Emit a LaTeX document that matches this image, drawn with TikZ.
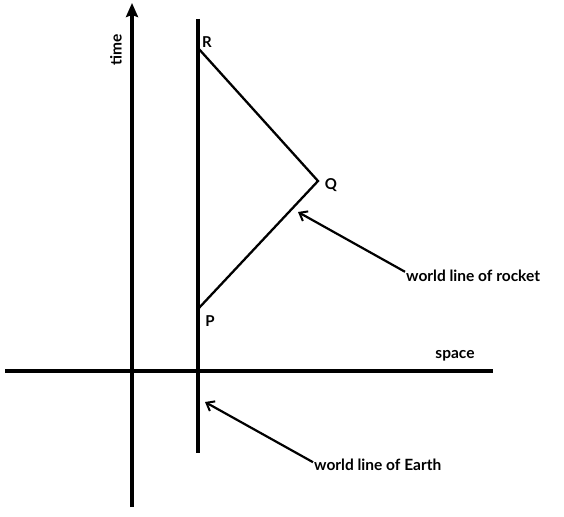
\documentclass[tikz,border=0pt]{standalone}
\usepackage{fontspec}
\setmainfont{Lato}
\usepackage{tikz}
\usetikzlibrary{arrows.meta,positioning,calc}

\begin{document}
\begin{tikzpicture}[
  x=1pt,y=-1pt,
  axis/.style={line width=3.2pt},
  wline/.style={line width=2.3pt},
  pointer/.style={-{Straight Barb[length=7pt,width=11pt,line width=2pt]},line width=2.2pt},
  lbl/.style={font=\fontsize{15.5}{17}\selectfont\bfseries,inner sep=1pt},
  pt/.style={font=\fontsize{15}{17}\selectfont\bfseries,inner sep=0pt}
]
  \useasboundingbox (0,0) rectangle (564,516);

  % axes
  \coordinate (tbot) at (132,507);
  \coordinate (ttop) at (132,3);
  \coordinate (sleft) at (5,371);
  \coordinate (sright) at (493,371);
  \draw[axis,-{Stealth[length=14pt,width=12pt,inset=2pt]}] (tbot) -- (ttop);
  \draw[axis] (sleft) -- (sright);
  \node[lbl,rotate=90] (timelbl) at (116,50) {time};
  \node[lbl] (spacelbl) at (455,356) {space};

  % world lines
  \coordinate (etop) at (198,19);
  \coordinate (ebot) at (198,453);
  \coordinate (R) at (198,48);
  \coordinate (Q) at (318,181);
  \coordinate (P) at (198,309);
  \draw[axis] (etop) -- (ebot);
  \draw[wline] (P) -- (Q) -- (R);
  \node[pt] (Rlbl) at (207,42) {R};
  \node[pt] (Qlbl) at (331,185) {Q};
  \node[pt] (Plbl) at (210,321) {P};

  % labels
  \node[lbl,anchor=west] (rocketlbl) at (405,276) {world line of rocket};
  \node[lbl,anchor=west] (earthlbl) at (313,465) {world line of Earth};
  \coordinate (rockettip) at (298,212);
  \coordinate (earthtip) at (205,402);
  \draw[pointer] ($(rocketlbl.west)!0.6!(rocketlbl.north west)$) -- (rockettip);
  \draw[pointer] ($(earthlbl.west)!0.4!(earthlbl.north west)$) -- (earthtip);
\end{tikzpicture}
\end{document}
